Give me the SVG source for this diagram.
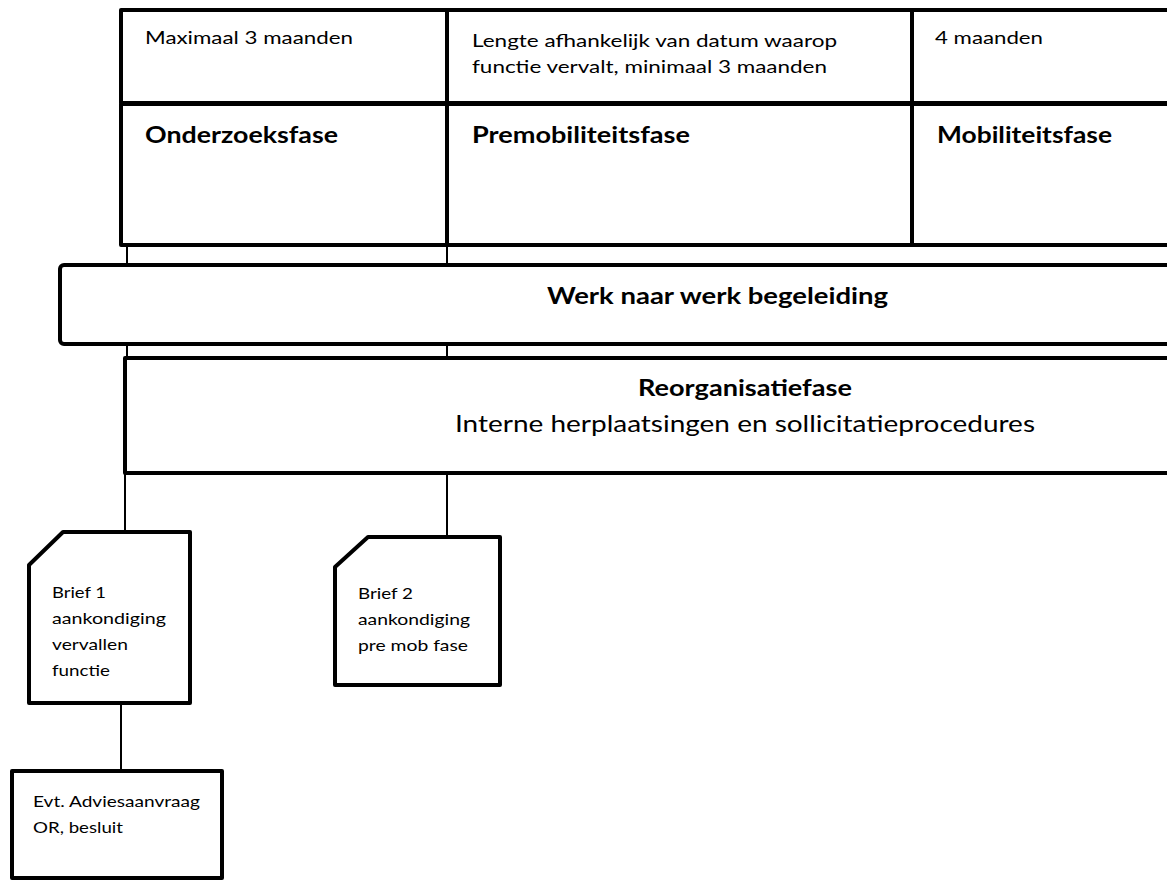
<svg xmlns="http://www.w3.org/2000/svg" width="1167" height="880" viewBox="0 0 1167 880">
<style>
.box{fill:#fff;stroke:#000;stroke-width:4;stroke-linejoin:round}
.conn{fill:none;stroke:#000;stroke-width:2}
.t{font-family:Lato,"Liberation Sans",sans-serif;fill:#000}
.s{font-size:18px}
.b{font-size:22px;font-weight:bold}
.w{font-size:23px;font-weight:bold}
.m{font-size:16px}
</style>
<rect width="1167" height="880" fill="#fff"/>
<g id="connectors">
<line class="conn" x1="127" y1="245" x2="127" y2="358"/>
<line class="conn" x1="447" y1="245" x2="447" y2="358"/>
<line class="conn" x1="125" y1="473" x2="125" y2="532"/>
<line class="conn" x1="447" y1="473" x2="447" y2="537"/>
<line class="conn" x1="121" y1="703" x2="121" y2="771"/>
</g>
<g id="dur1"><rect class="box" x="121" y="10" width="326" height="93"/><text class="t s" x="145" y="44" textLength="208" lengthAdjust="spacingAndGlyphs">Maximaal 3 maanden</text></g>
<g id="dur2"><rect class="box" x="447" y="10" width="465" height="93"/><text class="t s" x="472" y="47" textLength="365" lengthAdjust="spacingAndGlyphs">Lengte afhankelijk van datum waarop</text><text class="t s" x="472" y="73" textLength="355" lengthAdjust="spacingAndGlyphs">functie vervalt, minimaal 3 maanden</text></g>
<g id="dur3"><rect class="box" x="912" y="10" width="270" height="93"/><text class="t s" x="935" y="44" textLength="108" lengthAdjust="spacingAndGlyphs">4 maanden</text></g>
<g id="phase1"><rect class="box" x="121" y="104" width="326" height="141"/><text class="t b" x="145" y="143" textLength="193" lengthAdjust="spacingAndGlyphs">Onderzoeksfase</text></g>
<g id="phase2"><rect class="box" x="447" y="104" width="465" height="141"/><text class="t b" x="472" y="143" textLength="218" lengthAdjust="spacingAndGlyphs">Premobiliteitsfase</text></g>
<g id="phase3"><rect class="box" x="912" y="104" width="270" height="141"/><text class="t b" x="937" y="143" textLength="175" lengthAdjust="spacingAndGlyphs">Mobiliteitsfase</text></g>
<g id="werk"><rect class="box" x="60" y="265" width="1130" height="79" rx="4"/><text class="t w" x="547" y="304" textLength="341" lengthAdjust="spacingAndGlyphs">Werk naar werk begeleiding</text></g>
<g id="reorg"><rect class="box" x="125" y="358" width="1065" height="115"/><text class="t w" x="638" y="396" textLength="214" lengthAdjust="spacingAndGlyphs">Reorganisatiefase</text><text class="t" style="font-size:24px" x="455" y="432" textLength="580" lengthAdjust="spacingAndGlyphs">Interne herplaatsingen en sollicitatieprocedures</text></g>
<g id="brief1"><path class="box" d="M63 532 H190 V703 H29 V565 Z"/><text class="t m" x="52" y="598" textLength="54" lengthAdjust="spacingAndGlyphs">Brief 1</text><text class="t m" x="52" y="624" textLength="114" lengthAdjust="spacingAndGlyphs">aankondiging</text><text class="t m" x="52" y="650" textLength="76" lengthAdjust="spacingAndGlyphs">vervallen</text><text class="t m" x="52" y="676" textLength="58" lengthAdjust="spacingAndGlyphs">functie</text></g>
<g id="brief2"><path class="box" d="M368 537 H500 V685 H335 V567 Z"/><text class="t m" x="358" y="599" textLength="55" lengthAdjust="spacingAndGlyphs">Brief 2</text><text class="t m" x="358" y="625" textLength="112" lengthAdjust="spacingAndGlyphs">aankondiging</text><text class="t m" x="358" y="651" textLength="110" lengthAdjust="spacingAndGlyphs">pre mob fase</text></g>
<g id="advies"><rect class="box" x="12" y="771" width="210" height="107"/><text class="t m" x="33" y="807" textLength="167" lengthAdjust="spacingAndGlyphs">Evt. Adviesaanvraag</text><text class="t m" x="33" y="833" textLength="90" lengthAdjust="spacingAndGlyphs">OR, besluit</text></g>
</svg>
